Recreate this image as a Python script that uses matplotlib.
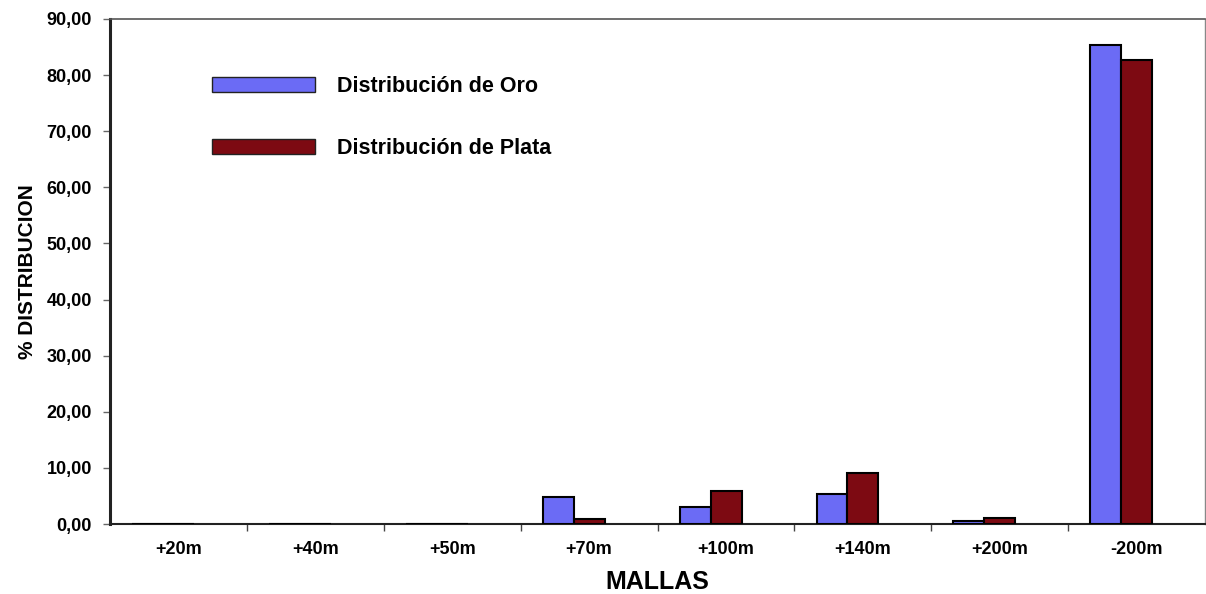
import numpy as np
import matplotlib.pyplot as plt
from matplotlib.patches import Patch
from matplotlib.ticker import FuncFormatter

mallas = ['+20m', '+40m', '+50m', '+70m', '+100m', '+140m', '+200m', '-200m']
oro = [0.0, 0.0, 0.0, 4.8, 3.0, 5.3, 0.6, 85.4]
plata = [0.0, 0.0, 0.0, 0.9, 5.9, 9.1, 1.0, 82.7]

plt.rcParams['font.family'] = ['Liberation Sans', 'DejaVu Sans']
plt.rcParams['font.weight'] = 'bold'

col_oro = '#6b6bf5'
col_plata = '#7d0a12'

fig = plt.figure(figsize=(12.06, 5.94), dpi=100)
ax = fig.add_axes([110 / 1206, 70 / 594, 1095 / 1206, 505 / 594])

x = np.arange(len(mallas))
w = 0.226
shift = -0.112
ax.bar(x + shift - w / 2, oro, w, color=col_oro, edgecolor='black', linewidth=1.5, zorder=3)
ax.bar(x + shift + w / 2, plata, w, color=col_plata, edgecolor='black', linewidth=1.5, zorder=3)

ax.set_xlim(-0.5, len(mallas) - 0.5)
ax.set_ylim(0, 90)
ax.set_yticks(np.arange(0, 91, 10))
ax.yaxis.set_major_formatter(FuncFormatter(lambda v, p: ('%.2f' % v).replace('.', ',')))

ax.set_xticks(x)
ax.set_xticklabels(mallas)
ax.set_xticks(np.arange(0.5, len(mallas) - 0.5, 1), minor=True)
ax.tick_params(axis='x', which='major', length=0, pad=12, labelsize=13)
ax.tick_params(axis='x', which='minor', length=5, width=1, direction='out', color='#444444')
ax.tick_params(axis='y', length=5, width=1, direction='out', labelsize=13, color='#666666', pad=8)

for lab in ax.get_xticklabels() + ax.get_yticklabels():
    lab.set_fontweight('bold')

ax.spines['left'].set_linewidth(2.2)
ax.spines['left'].set_color('#222222')
ax.spines['bottom'].set_linewidth(1.5)
ax.spines['bottom'].set_color('#222222')
ax.spines['top'].set_linewidth(1.2)
ax.spines['top'].set_color('#555555')
ax.spines['right'].set_linewidth(1.0)
ax.spines['right'].set_color('#888888')

ax.set_xlabel('MALLAS', fontsize=18, fontweight='bold', labelpad=9)
ax.set_ylabel('% DISTRIBUCION', fontsize=15, fontweight='bold', labelpad=7)

handles = [Patch(facecolor=col_oro, edgecolor='#222222', linewidth=1.0),
           Patch(facecolor=col_plata, edgecolor='#222222', linewidth=1.0)]
fig.legend(handles, ['Distribución de Oro', 'Distribución de Plata'],
           loc='upper left', bbox_to_anchor=(212 / 1206, (594 - 76) / 594),
           frameon=False, handlelength=4.8, handleheight=0.75,
           handletextpad=1.0, labelspacing=1.9, borderpad=0, borderaxespad=0,
           prop={'weight': 'bold', 'size': 15.5})

fig.savefig('out.png', dpi=100)
